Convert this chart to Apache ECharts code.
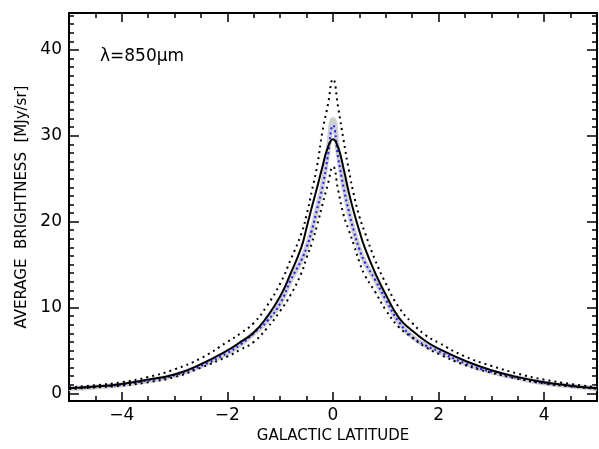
<!DOCTYPE html>
<html><head><meta charset="utf-8">
<script src="https://cdn.jsdelivr.net/npm/echarts@6/dist/echarts.min.js"></script>
<style>html,body{margin:0;padding:0;background:#fff}#c{width:599px;height:449px}</style>
</head><body><div id="c"></div>
<script>
var lat = [-5,-4.5,-4,-3.5,-3,-2.5,-2,-1.75,-1.5,-1.25,-1,-0.8,-0.6,-0.5,-0.4,-0.3,-0.2,-0.1,0,0.1,0.2,0.3,0.4,0.5,0.6,0.8,1.0,1.25,1.5,1.75,2.0,2.5,3.0,3.5,4.0,4.5,5.0];
var meanB  = [0.6,0.8,1.1,1.6,2.2,3.4,5.0,6.0,7.1,8.9,11.3,14.0,17.0,19.3,21.7,24.0,26.4,28.6,29.6,28.6,26.2,23.4,21.0,18.9,17.0,14.0,11.5,8.8,7.3,6.1,5.2,3.8,2.7,1.9,1.3,0.9,0.6];
var upperB = [0.7,0.95,1.3,1.9,2.8,4.1,6.0,7.0,8.2,10.2,12.8,15.6,18.6,20.8,23.6,26.5,30.5,33.5,36.6,33.2,29.5,26.0,23.0,20.6,18.8,15.5,12.8,10.0,8.2,6.8,5.9,4.3,3.2,2.3,1.6,1.1,0.7];
var lowerB = [0.5,0.7,0.9,1.3,1.9,3.0,4.3,5.1,6.0,7.6,9.6,11.5,14.0,15.8,17.5,19.6,22.0,24.3,26.4,23.6,20.8,19.0,17.2,15.3,13.8,11.8,9.7,7.7,6.5,5.4,4.6,3.3,2.4,1.7,1.15,0.8,0.55];
var modelB = [0.55,0.75,1.0,1.5,2.1,3.2,4.7,5.7,7.0,8.4,10.5,13.2,15.5,17.0,19.0,21.5,24.0,27.5,31.2,27.4,24.0,21.2,18.8,16.8,15.3,13.2,10.9,8.3,6.6,5.6,4.9,3.5,2.5,1.8,1.2,0.85,0.55];
var bandB  = [0.55,0.75,1.0,1.5,2.1,3.2,4.7,5.7,7.0,8.4,10.5,13.2,15.5,17.0,19.0,21.5,24.2,28.0,31.9,27.9,24.2,21.2,18.8,16.8,15.3,13.2,10.9,8.3,6.6,5.6,4.9,3.5,2.5,1.8,1.2,0.85,0.55];
var xMajor = [-4,-2,0,2,4];
var xMinor = [-4.5,-3.5,-3,-2.5,-1.5,-1,-0.5,0.5,1,1.5,2.5,3,3.5,4.5];
var yMajor = [0,10,20,30,40];
var yMinor = [];
for (var v = 0; v <= 44; v++) { if (v % 10 !== 0) yMinor.push(v); }
var xTitle = 'GALACTIC LATITUDE';
var yTitle = 'AVERAGE  BRIGHTNESS  [MJy/sr]';
var note = '\u03bb=850\u03bcm';

function pairs(a){ return lat.map(function(x,i){ return [x, a[i]]; }); }
var FONT = 'DejaVu Sans';
function xAx(pos, ticks, len, labels, show){
  return { type:'value', min:-5, max:5, position:pos, gridIndex:0,
    axisLine:{show:show, onZero:false, lineStyle:{color:'#000', width:2}},
    axisTick:{show:true, inside:true, length:len, customValues:ticks, lineStyle:{color:'#000', width:1.5}},
    axisLabel:{show:labels, customValues:ticks, color:'#000', fontFamily:FONT, fontSize:17, margin:6,
      formatter:function(v){ return String(v).replace('-', '\u2212'); }},
    splitLine:{show:false} };
}
function yAx(pos, ticks, len, labels, show){
  return { type:'value', min:-0.9, max:44.3, position:pos, gridIndex:0,
    axisLine:{show:show, onZero:false, lineStyle:{color:'#000', width:2}},
    axisTick:{show:true, inside:true, length:len, customValues:ticks, lineStyle:{color:'#000', width:1.5}},
    axisLabel:{show:labels, customValues:ticks, color:'#000', fontFamily:FONT, fontSize:17, margin:7},
    splitLine:{show:false} };
}
var xa = [xAx('bottom', xMajor, 9, true, true), xAx('bottom', xMinor, 5, false, false), xAx('top', xMajor, 9, false, true), xAx('top', xMinor, 5, false, false)];
xa[0].name = xTitle; xa[0].nameLocation = 'middle'; xa[0].nameGap = 27;
xa[0].nameTextStyle = {color:'#000', fontFamily:FONT, fontSize:15};
var ya = [yAx('left', yMajor, 10, true, true), yAx('left', yMinor, 5, false, false), yAx('right', yMajor, 10, false, true), yAx('right', yMinor, 5, false, false)];
ya[0].name = yTitle; ya[0].nameLocation = 'middle'; ya[0].nameGap = 34;
ya[0].nameTextStyle = {color:'#000', fontFamily:FONT, fontSize:15};

var chart = echarts.init(document.getElementById('c'), null, {renderer:'canvas'});
chart.setOption({
  animation:false,
  grid:{left:69, right:2, top:13, bottom:34, containLabel:false},
  xAxis: xa, yAxis: ya,
  graphic:[{type:'text', left:100, top:48, style:{text:note, fill:'#000', font:'17px "DejaVu Sans"'}}],
  series:[
    {type:'line', data:pairs(bandB), showSymbol:false, smooth:0.5, lineStyle:{color:'#cfcfcf', width:5}, z:1},
    {type:'line', data:pairs(modelB), showSymbol:false, smooth:0.5, lineStyle:{color:'#1a1aff', width:2, type:[2,3]}, z:2},
    {type:'line', data:pairs(upperB), showSymbol:false, smooth:0.5, lineStyle:{color:'#000', width:2, type:[2,4]}, z:3},
    {type:'line', data:pairs(lowerB), showSymbol:false, smooth:0.5, lineStyle:{color:'#000', width:2, type:[2,4]}, z:3},
    {type:'line', data:pairs(meanB), showSymbol:false, smooth:0.5, lineStyle:{color:'#000', width:2}, z:4}
  ]
});
</script></body></html>
